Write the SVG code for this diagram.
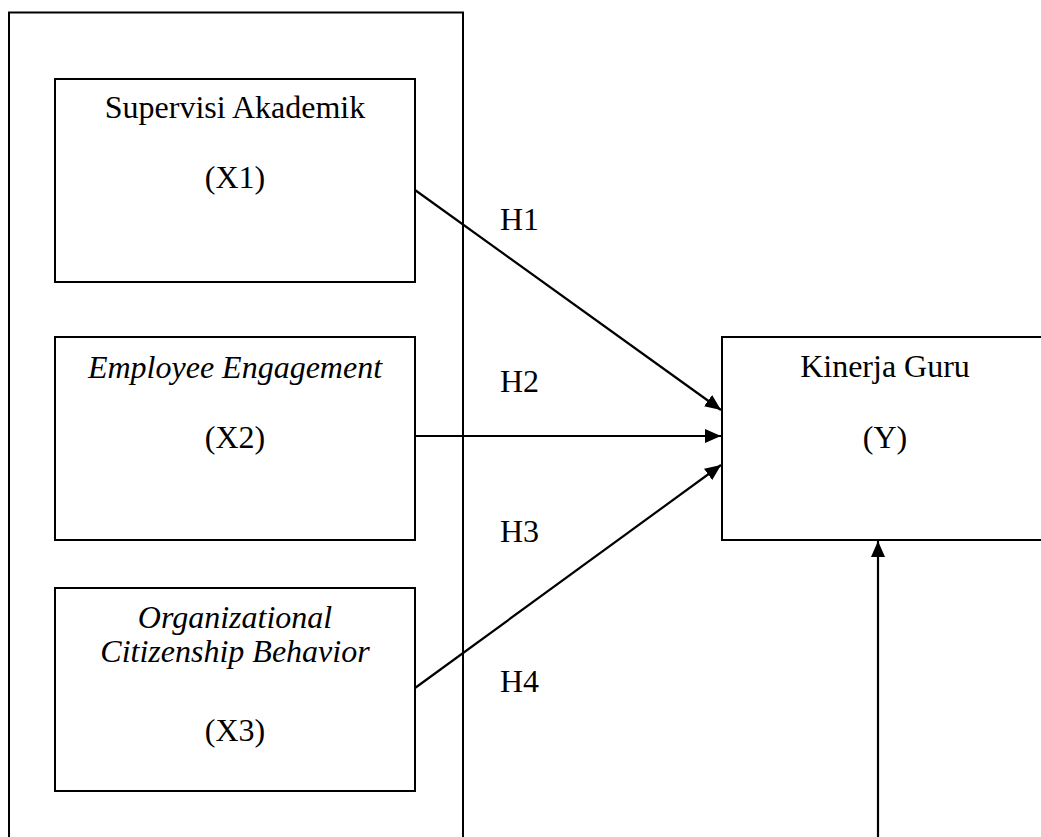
<svg xmlns="http://www.w3.org/2000/svg" width="1041" height="837" viewBox="0 0 1041 837">
  <style>
    .box { fill: #ffffff; stroke: #000000; stroke-width: 2; }
    .outer { fill: none; stroke: #000000; stroke-width: 2; }
    .lbl { font-family: "Liberation Serif", "Times New Roman", serif; font-size: 32px; fill: #000000; }
    .c { text-anchor: middle; }
    .it { font-style: italic; }
    .edge { stroke: #000000; stroke-width: 2.2; fill: none; marker-end: url(#arr); }
  </style>
  <defs>
    <marker id="arr" markerUnits="userSpaceOnUse" markerWidth="16" markerHeight="14" refX="16" refY="7" orient="auto">
      <path d="M0,0 L16,7 L0,14 Z" fill="#000000"/>
    </marker>
  </defs>
  <rect width="1041" height="837" fill="#ffffff"/>

  <g id="group-x">
    <rect class="outer" x="9" y="12.5" width="454" height="840"/>
  </g>

  <g id="node-x1">
    <rect class="box" x="55" y="79" width="360" height="203"/>
    <text class="lbl c" x="235" y="118">Supervisi Akademik</text>
    <text class="lbl c" x="235" y="188">(X1)</text>
  </g>

  <g id="node-x2">
    <rect class="box" x="55" y="337" width="360" height="203"/>
    <text class="lbl c it" x="235" y="378">Employee Engagement</text>
    <text class="lbl c" x="235" y="448">(X2)</text>
  </g>

  <g id="node-x3">
    <rect class="box" x="55" y="588" width="360" height="203"/>
    <text class="lbl c it" x="235" y="628">Organizational</text>
    <text class="lbl c it" x="235" y="662">Citizenship Behavior</text>
    <text class="lbl c" x="235" y="741">(X3)</text>
  </g>

  <g id="node-y">
    <rect class="box" x="722" y="337" width="326" height="203"/>
    <text class="lbl c" x="885" y="377">Kinerja Guru</text>
    <text class="lbl c" x="885" y="448">(Y)</text>
  </g>

  <g id="connectors">
    <line class="edge" x1="415" y1="190" x2="721" y2="410"/>
    <line class="edge" x1="415" y1="436" x2="721" y2="436"/>
    <line class="edge" x1="415" y1="688" x2="721" y2="465"/>
    <line class="edge" x1="878" y1="850" x2="878" y2="541"/>
  </g>

  <g id="labels">
    <text class="lbl" x="500" y="230">H1</text>
    <text class="lbl" x="500" y="392">H2</text>
    <text class="lbl" x="500" y="542">H3</text>
    <text class="lbl" x="500" y="692">H4</text>
  </g>
</svg>
